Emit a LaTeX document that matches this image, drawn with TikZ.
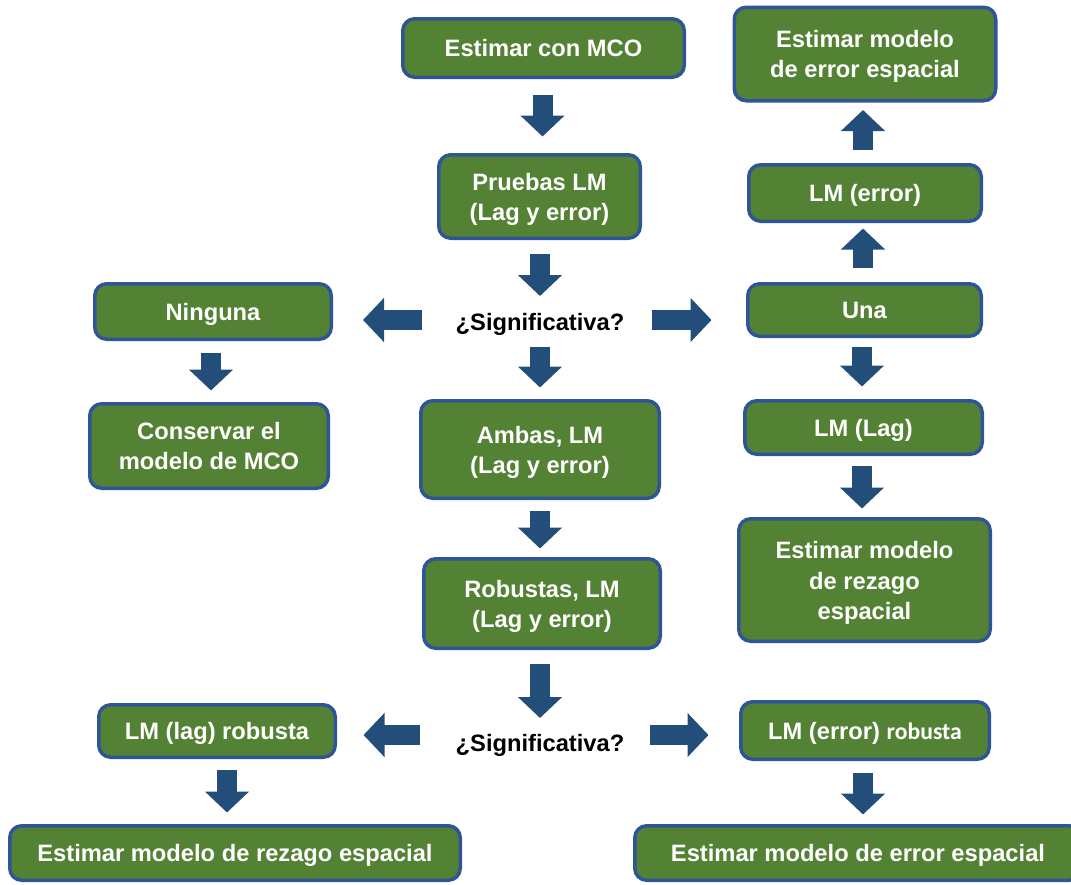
\documentclass[tikz,border=0pt]{standalone}
\usepackage{fontspec}
\setmainfont{Liberation Sans}
\newfontfamily\calibfont{Carlito}
\usetikzlibrary{arrows.meta,calc}
\definecolor{boxgreen}{RGB}{84,130,53}
\definecolor{boxedge}{RGB}{47,85,151}
\definecolor{arrowblue}{RGB}{35,78,122}
\begin{document}
\begin{tikzpicture}[x=1pt,y=-1pt,
  box/.style={draw=boxedge, line width=3.5pt, fill=boxgreen, rounded corners=12pt,
    text=white, font=\fontsize{23.7}{30}\selectfont\bfseries, align=center,
    inner sep=0pt, text depth=0pt},
  bx/.style 2 args={box, minimum width=#1pt-3.5pt, minimum height=#2pt-3.5pt},
  question/.style={text=black, font=\fontsize{23.7}{30}\selectfont\bfseries,
    inner sep=0pt, text depth=0pt},
  blk/.style={draw=arrowblue, line width=20pt, -{Triangle[width=43pt,length=21pt]}}]
\useasboundingbox (0,0) rectangle (1071,884);

% central column
\node[bx={285}{62}] (mco) at (543.5,48) {Estimar con MCO};
\node[bx={205}{87}] (pruebas) at (539.5,196.5) {Pruebas LM\\(Lag y error)};
\node[question] (sig) at (540,322) {¿Significativa?};
\node[bx={242}{101}] (ambas) at (540,449.5) {Ambas, LM\\(Lag y error)};
\node[bx={240}{93}] (robustas) at (542,603.5) {Robustas, LM\\(Lag y error)};
\node[question] (sig2) at (540,743) {¿Significativa?};

% left column
\node[bx={240}{59}] (ninguna) at (213,311.5) {Ninguna};
\node[bx={242}{88}] (conservar) at (209,446) {Conservar el\\modelo de MCO};
\node[bx={240}{56}] (lagrob) at (217,731) {LM (lag) robusta};
\node[bx={454}{58}] (botL) at (235,853) {Estimar modelo de rezago espacial};

% right column
\node[bx={265}{97}] (errT) at (865,54) {Estimar modelo\\de error espacial};
\node[bx={236}{60}] (lmerr) at (865,193) {LM (error)};
\node[bx={237}{56}] (una) at (864.5,310) {Una};
\node[bx={241}{57}] (lmlag) at (863.5,427.5) {LM (Lag)};
\node[bx={255}{126}] (rezR) at (864.5,580) {};
% the last line runs into the bottom edge of the box and is cut there
\begin{scope}
  \clip ($(rezR.north west)+(-5,-5)$) rectangle ($(rezR.south east)+(5,-19.75)$);
  \node[box, draw=none, fill=none, font=\fontsize{23.7}{30.5}\selectfont\bfseries]
    at ($(rezR.center)+(0,0.85)$) {Estimar modelo\\de rezago\\espacial};
\end{scope}
\node[bx={252}{61}] (errrob) at (865,730.5) {LM (error) {\calibfont robusta}};
\node[bx={450}{58}] (botR) at (858,853) {Estimar modelo de error espacial};

% block arrows, central column
\draw[blk] ($(mco.south)+(-1,15.5)$) -- ($(pruebas.north)+(3,-16.5)$);
\draw[blk] ($(pruebas.south)+(0.5,13.5)$) -- ($(sig.center)+(0,-26)$);
\draw[blk] ($(sig.center)+(0,25)$) -- ($(ambas.north)+(0,-11.5)$);
\draw[blk] ($(ambas.south)+(0,10.5)$) -- ($(robustas.north)+(-2,-8.5)$);
\draw[blk] ($(robustas.south)+(-2,13.5)$) -- ($(sig2.center)+(0,-25)$);

% first decision
\draw[blk] ($(sig.center)+(-118,-2)$) -- ($(ninguna.east)+(30,8.5)$);
\draw[blk] ($(sig.center)+(112,-2)$) -- ($(una.west)+(-34.5,10)$);
\draw[blk] ($(ninguna.south)+(-2,11.5)$) -- ($(conservar.north)+(2,-11.5)$);

% right column
\draw[blk] ($(una.north)+(-1.5,-14.5)$) -- ($(lmerr.south)+(-2,5.5)$);
\draw[blk] ($(lmerr.north)+(-2,-13.5)$) -- ($(errT.south)+(-2,7.5)$);
\draw[blk] ($(una.south)+(-2.5,8.5)$) -- ($(lmlag.north)+(-1.5,-12.5)$);
\draw[blk] ($(lmlag.south)+(-1.5,9.5)$) -- ($(rezR.north)+(-2.5,-8.5)$);

% second decision
\draw[blk] ($(sig2.center)+(-120,-8)$) -- ($(lagrob.east)+(26.5,4)$);
\draw[blk] ($(sig2.center)+(110,-8)$) -- ($(errrob.west)+(-30.5,4.5)$);
\draw[blk] ($(lagrob.south)+(10,10.5)$) -- ($(botL.north)+(-8,-11.5)$);
\draw[blk] ($(errrob.south)+(-2,11.5)$) -- ($(botR.north)+(5,-9.5)$);
\end{tikzpicture}
\end{document}
